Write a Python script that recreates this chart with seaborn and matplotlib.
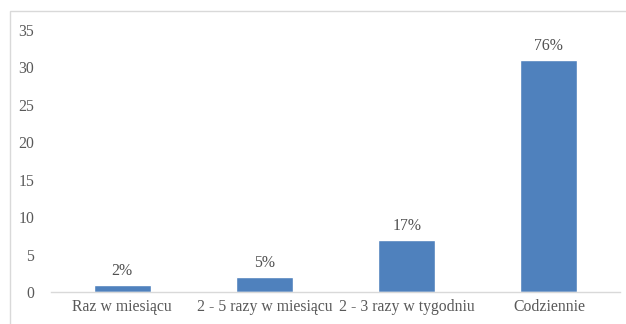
import matplotlib
matplotlib.use("Agg")
import matplotlib.pyplot as plt
import seaborn as sns
import pandas as pd
from matplotlib.patches import Rectangle

categories = ["Raz w miesiącu", "2 - 5 razy w miesiącu", "2 - 3 razy w tygodniu", "Codziennie"]
values = [1, 2, 7, 31]
labels = ["2%", "5%", "17%", "76%"]
yticks = [0, 5, 10, 15, 20, 25, 30, 35]

sns.set_theme(style="white")
plt.rcParams["font.family"] = ["Liberation Serif", "DejaVu Serif"]

df = pd.DataFrame({"cat": categories, "val": values})

fig = plt.figure(figsize=(6.26, 3.24), dpi=100)
ax = fig.add_axes([51/626, 32/324, (620-51)/626, (292-30)/324])

sns.barplot(data=df, x="cat", y="val", color="#4F81BD", saturation=1, width=0.4, ax=ax)

ax.set_ylim(0, 35)
ax.set_yticks(yticks)
ax.set_xlim(-0.5, 3.5)
ax.set_xlabel("")
ax.set_ylabel("")
for s in ["top", "right", "left"]:
    ax.spines[s].set_visible(False)
ax.spines["bottom"].set_color("#D9D9D9")
ax.spines["bottom"].set_linewidth(1)
ax.tick_params(axis="both", length=0, labelsize=11.3, colors="#595959")
ax.tick_params(axis="y", pad=12)
ax.tick_params(axis="x", pad=5)
ax.grid(False)

ax.bar_label(ax.containers[0], labels=labels, padding=4, fontsize=11.3, color="#505050")

border = Rectangle((10/626, -0.05), 1.0, 1 - 11/324 + 0.05, transform=fig.transFigure,
                   fill=False, edgecolor="#D9D9D9", linewidth=1, zorder=-1)
fig.patches.append(border)

fig.savefig("out.png", dpi=100)
